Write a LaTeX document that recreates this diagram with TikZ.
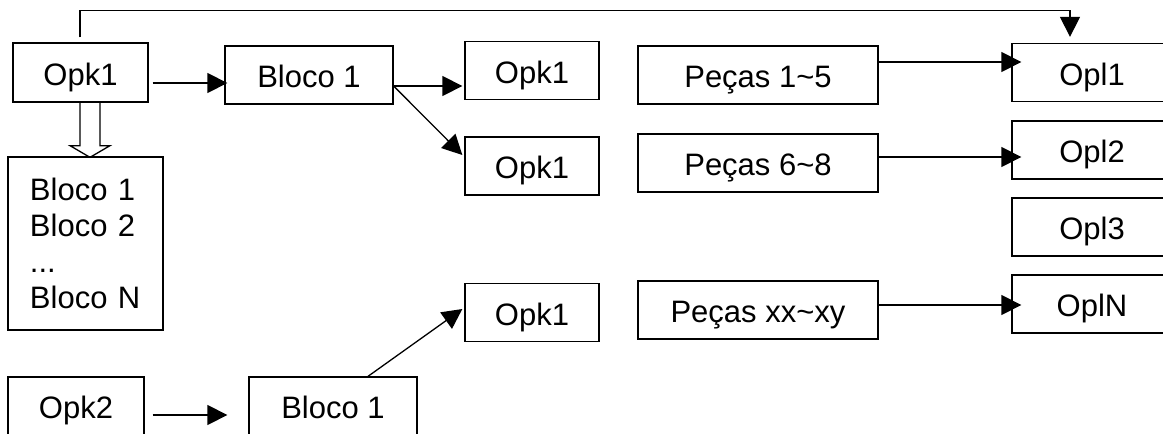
\documentclass[tikz,border=0pt]{standalone}
\usepackage{fontspec}
\setmainfont{Liberation Sans}
\usetikzlibrary{arrows.meta,calc}
\begin{document}
\begin{tikzpicture}[x=1pt,y=-1pt,
  line width=1.3pt,
  box/.style={draw, rectangle, inner sep=0pt, font=\fontsize{31}{36}\selectfont},
  line1/.style={box, text height=25pt, text depth=0pt},
  opk/.style={line1, minimum width=134pt, minimum height=58pt},
  blk/.style={line1, minimum width=168pt, minimum height=58pt},
  pec/.style={line1, minimum width=240pt, minimum height=58pt},
  opl/.style={line1, minimum width=160pt, minimum height=58pt},
  arr/.style={-{Triangle[length=20pt,width=20pt]}},
  ]
\clip (0,0) rectangle (1163,434);
\fill[white] (0,0) rectangle (1163,434);

% left column
\node[line1, minimum width=135pt, minimum height=59pt] (opkA) at (80.5,72.5) {Opk1};
\node[box, minimum width=155pt, minimum height=173pt, text width=111pt, align=left]
  (list) at (85.5,243.5) {Bloco 1\\Bloco 2\\...\\Bloco N};
\node[line1, minimum width=136pt, minimum height=58pt] (opk2) at (76,406) {Opk2};

% blocks
\node[blk] (blocoA) at (309,75) {Bloco 1};
\node[blk] (blocoB) at (333,406) {Bloco 1};

% Opk1 targets
\node[opk] (opkB) at (532,70.5) {Opk1};
\node[opk] (opkC) at (532,166) {Opk1};
\node[opk] (opkD) at (532,312.5) {Opk1};

% piece groups
\node[pec] (pecA) at (758,75) {Peças 1\textasciitilde5};
\node[pec] (pecB) at (758,163) {Peças 6\textasciitilde8};
\node[pec] (pecC) at (758,310) {Peças xx\textasciitilde xy};

% Opl column
\node[opl] (oplA) at (1092,72.5) {Opl1};
\node[opl] (oplB) at (1092,150) {Opl2};
\node[opl] (oplC) at (1092,227) {Opl3};
\node[opl] (oplD) at (1092,304) {OplN};

% connectors
\draw[arr] ($(opkA.east)+(4,10.5)$) -- ($(blocoA.west)+(3,8)$);
\draw[arr] ($(blocoA.east)+(0,11)$) -- ($(opkB.west)+(-2,15.5)$);
\draw[arr] ($(blocoA.east)+(0,11)$) -- ($(opkC.west)+(-2,-11)$);
\draw[arr] ($(blocoB.north)+(35,0)$) -- ($(opkD.west)+(-2,-3.5)$);
\draw[arr] ($(opk2.east)+(8,9)$) -- ($(blocoB.west)+(-21,9)$);

\draw[arr] ($(pecA.east)+(0,-13)$) -- ($(oplA.west)+(10,-10.5)$);
\draw[arr] ($(pecB.east)+(0,-6)$) -- ($(oplB.west)+(10,7)$);
\draw[arr] ($(pecC.east)+(0,-5)$) -- ($(oplD.west)+(10,1)$);

% feedback line over the top
\draw[arr] ($(opkA.north)+(-0.5,-5)$) -- ++(0,-27) -| ($(oplA.north)+(-22,-6)$);

% hollow block arrow into the list
\draw[line join=miter]
  ($(opkA.south)+(-0.5,0)$) -- ++(0,43) -- ++(-10,0)
  -- ($(list.north)+(4.5,1)$)
  -- ($(opkA.south)+(29.5,43)$) -- ++(-10,0) -- ($(opkA.south)+(19.5,0)$);
\end{tikzpicture}
\end{document}
